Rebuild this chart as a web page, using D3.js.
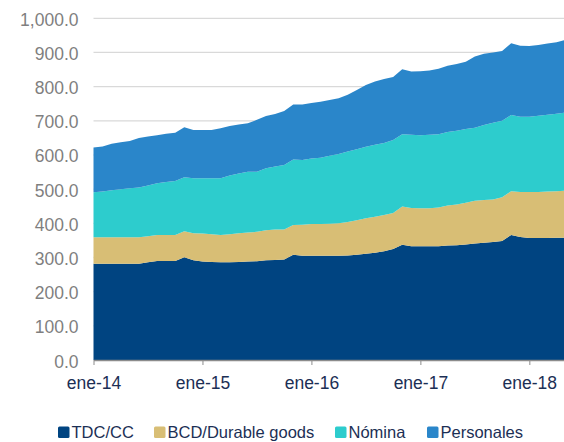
<!DOCTYPE html>
<html>
<head>
<meta charset="utf-8">
<script src="https://cdn.jsdelivr.net/npm/d3@7"></script>
<style>
  html, body { margin: 0; padding: 0; background: #fff; }
  #chart text { font-family: "Liberation Sans", Arial, sans-serif; }
</style>
</head>
<body>
<div id="chart"></div>
<script>
// monthly data, ene-14 .. may-18
var tdc = [282,282,282,282,282,282,286,290,290,290,301,292,
           288,287,286,286,287,288,289,292,293,294,308,305,
           305,305,305,305,306,308,311,314,318,325,337,333,
           333,333,333,335,336,338,341,343,345,348,366,360,
           357,357,357,358,358];
var bcd = [77,77,77,77,77,77,76,76,76,76,76,79,
           82,81,80,82,84,85,86,88,89,88,87,91,
           93,93,94,95,98,101,104,105,106,105,112,112,
           111,111,113,117,119,122,125,125,125,128,128,132,
           135,135,136,136,138];
var nomina = [132,134,138,141,144,146,149,151,155,158,158,161,
              162,164,166,172,175,178,176,181,184,189,192,189,
              192,194,199,203,206,208,209,211,211,214,212,214,
              214,215,215,215,216,216,214,220,224,224,223,220,
              220,223,225,227,228];
var personales = [131,132,136,137,138,145,143,141,141,141,146,141,
                  141,141,146,145,143,142,152,153,154,158,161,163,
                  162,164,163,163,166,173,181,185,187,184,190,185,
                  187,188,191,194,195,197,208,208,206,204,210,208,
                  207,207,208,209,213];
var seriesNames = ["TDC/CC", "BCD/Durable goods", "Nómina", "Personales"];
var yTicks = [0,100,200,300,400,500,600,700,800,900,1000];
var xTickMonths = [0,12,24,36,48]; // ene of each year

(function () {

  var w = 564,
    h = 442,
    left = 93.5,
    monthStep = 9.08,
    svg,
    x,
    y,
    rows,
    stacked,
    // BBVA-ish palette: navy, sand, aqua, blue
    colors = d3.scaleOrdinal(seriesNames, ["#004481", "#d8be75", "#2dcccd", "#2a86ca"]),
    months = d3.timeMonth.range(new Date(2014, 0, 1), new Date(2018, 5, 1)),
    es = d3.timeFormatLocale({
      dateTime: "%x, %X", date: "%d/%m/%Y", time: "%H:%M:%S",
      periods: ["AM", "PM"],
      days: ["domingo","lunes","martes","miércoles","jueves","viernes","sábado"],
      shortDays: ["dom","lun","mar","mié","jue","vie","sáb"],
      months: ["enero","febrero","marzo","abril","mayo","junio","julio","agosto","septiembre","octubre","noviembre","diciembre"],
      shortMonths: ["ene","feb","mar","abr","may","jun","jul","ago","sep","oct","nov","dic"]
    }),
    fmtMonth = es.format("%b-%y");

  function makeChart() {
    buildRows();
    createSvg();
    getScales();
    drawGrid();
    drawAreas();
    drawAxes();
    drawLegend();
  }

  // one row per month, keyed by series name so d3.stack can use it
  function buildRows() {
    rows = months.map(function (m, i) {
      var r = { i: i };
      r[seriesNames[0]] = tdc[i];
      r[seriesNames[1]] = bcd[i];
      r[seriesNames[2]] = nomina[i];
      r[seriesNames[3]] = personales[i];
      return r;
    });
    stacked = d3.stack().keys(seriesNames)(rows);
  }

  function createSvg() {
    svg = d3.select("#chart")
      .append("svg")
      .attr("width", w)
      .attr("height", h);
  }

  function getScales() {
    x = d3.scaleLinear()
      .domain([0, months.length - 1])
      .range([left, left + (months.length - 1) * monthStep]);
    y = d3.scaleLinear()
      .domain([0, 1000])
      .range([360, 18.3]);
  }

  // light horizontal gridlines, the 0 line is the axis itself
  function drawGrid() {
    svg.append("g")
      .selectAll("line")
      .data(yTicks.filter(function (d) { return d > 0; }))
      .enter().append("line")
        .attr("x1", left)
        .attr("x2", w)
        .attr("y1", function (d) { return y(d); })
        .attr("y2", function (d) { return y(d); })
        .style("stroke", "#d9d9d9")
        .style("stroke-width", 1.3);
  }

  function drawAreas() {
    var area = d3.area()
      .x(function (d) { return x(d.data.i); })
      .y0(function (d) { return y(d[0]); })
      .y1(function (d) { return y(d[1]); });

    svg.append("g")
      .selectAll("path")
      .data(stacked)
      .enter().append("path")
        .attr("d", area)
        .attr("fill", function (d) { return colors(d.key); });
  }

  function drawAxes() {
    var xAxis = svg.append("g")
      .attr("transform", "translate(0," + y(0) + ")")
      .call(d3.axisBottom(x)
        .tickValues(xTickMonths)
        .tickFormat(function (i) { return fmtMonth(months[i]); })
        .tickSize(5)
        .tickSizeOuter(0));
    xAxis.select(".domain").style("stroke", "#8c8c8c").style("stroke-width", 1.3);
    xAxis.selectAll(".tick line").style("stroke", "#8c8c8c");
    xAxis.selectAll(".tick text")
      .attr("y", 17)
      .attr("dy", "0.71em")
      .style("font-size", "17.5px")
      .style("fill", "#1c2f55");

    var yAxis = svg.append("g")
      .attr("transform", "translate(" + left + ",0)")
      .call(d3.axisLeft(y)
        .tickValues(yTicks)
        .tickFormat(d3.format(",.1f"))
        .tickSize(0));
    yAxis.select(".domain").remove();
    yAxis.selectAll(".tick text")
      .attr("x", -15)
      .attr("dy", "0.4em")
      .style("font-size", "17.5px")
      .style("fill", "#7f7f7f");
  }

  function drawLegend() {
    var legendX = [58, 154, 335, 427];
    var items = svg.append("g")
      .selectAll("g")
      .data(seriesNames)
      .enter().append("g")
        .attr("transform", function (d, i) { return "translate(" + legendX[i] + ",426.5)"; });

    items.append("rect")
      .attr("width", 11.5)
      .attr("height", 11.5)
      .attr("rx", 1.5)
      .attr("fill", function (d) { return colors(d); });

    items.append("text")
      .text(function (d) { return d; })
      .attr("x", 13.5)
      .attr("y", 11)
      .style("font-size", "16.5px")
      .style("fill", "#1c2f55");
  }

  makeChart();
})();
</script>
</body>
</html>
